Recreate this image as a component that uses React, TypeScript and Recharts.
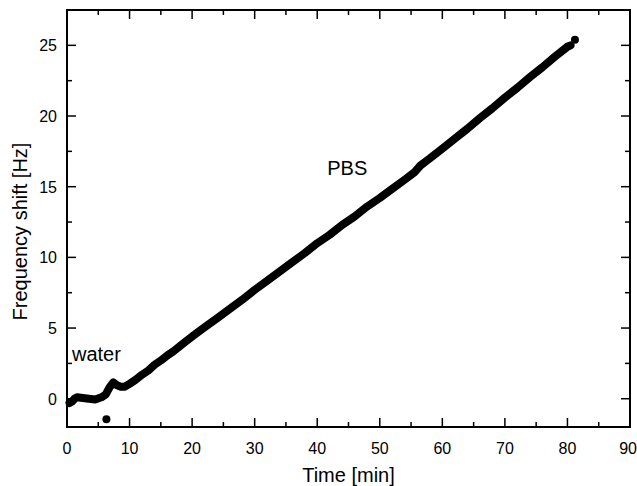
import React from "react";
import {
  ComposedChart,
  Line,
  Scatter,
  XAxis,
  YAxis,
  ReferenceDot,
} from "recharts";

// ─── Data ─────────────────────────────────────────────────────────────────────

const TIME = [
  0.4, 0.8, 1.2, 1.6, 2.5, 3.5, 4.5, 5.5, 6.2, 6.8, 7.4, 8, 8.6, 9.2, 10, 11, 12, 13,
  14, 15, 16, 17, 18, 19, 20, 22, 24, 26, 28, 30, 32, 34, 36, 38, 40, 42, 44, 46,
  48, 50, 52, 54, 55.5, 56.5, 58, 60, 62, 64, 66, 68, 70, 72, 74, 76, 78, 80, 80.5,
];
const SHIFT = [
  -0.3, -0.2, 0.0, 0.1, 0.05, 0.0, -0.05, 0.1, 0.3, 0.8, 1.15, 0.95, 0.85, 0.85,
  1.05, 1.35, 1.7, 2.0, 2.4, 2.7, 3.05, 3.35, 3.7, 4.05, 4.4, 5.05, 5.7, 6.35, 7.0,
  7.7, 8.35, 9.0, 9.65, 10.3, 11.0, 11.6, 12.3, 12.9, 13.6, 14.2, 14.85, 15.5,
  16.0, 16.5, 17.0, 17.7, 18.4, 19.1, 19.85, 20.55, 21.3, 22.0, 22.75, 23.45,
  24.2, 24.9, 25.0,
];
// stray single points
const OUTLIER_TIME = [6.3, 81.2];
const OUTLIER_SHIFT = [-1.45, 25.4];

const X_TICKS = [0, 5, 10, 15, 20, 25, 30, 35, 40, 45, 50, 55, 60, 65, 70, 75, 80, 85, 90];
const Y_TICKS = [0, 2.5, 5, 7.5, 10, 12.5, 15, 17.5, 20, 22.5, 25];
const X_DOMAIN = [0, 90];
const Y_DOMAIN = [-2, 27.5];

const series = TIME.map((t, i) => ({ t, shift: SHIFT[i] }));
const outliers = OUTLIER_TIME.map((t, i) => ({ t, stray: OUTLIER_SHIFT[i] }));

// ─── Layout / style ───────────────────────────────────────────────────────────

const W = 637;
const H = 486;
const M = { top: 10, right: 7, bottom: 0, left: 0 };
const Y_AXIS_W = 67;
const X_AXIS_H = 59;
const PLOT = {
  left: M.left + Y_AXIS_W,
  right: W - M.right,
  top: M.top,
  bottom: H - M.bottom - X_AXIS_H,
};

const FONT = "'Liberation Sans', Arial, sans-serif";
const MAJOR = 9;
const MINOR = 5;
const X_GAP = 16;
const Y_GAP = 10;

// bottom axis: inward tick mark + label
const BottomTick = ({ x, y, payload }: any) => {
  const v = payload.value;
  const major = v % 10 === 0;
  const axisY = y - X_GAP;
  const last = v === X_DOMAIN[1];
  return (
    <g>
      <line x1={x} x2={x} y1={axisY} y2={axisY - (major ? MAJOR : MINOR)} stroke="#000" strokeWidth={1.5} />
      {major && (
        <text x={last ? x + 7 : x} y={y + 11} textAnchor={last ? "end" : "middle"} fontSize={16} fontFamily={FONT} fill="#000">
          {v}
        </text>
      )}
    </g>
  );
};

// left axis: inward tick mark + label
const LeftTick = ({ x, y, payload }: any) => {
  const v = payload.value;
  const major = v % 5 === 0;
  const axisX = x + Y_GAP;
  return (
    <g>
      <line x1={axisX} x2={axisX + (major ? MAJOR : MINOR)} y1={y} y2={y} stroke="#000" strokeWidth={1.5} />
      {major && (
        <text x={x} y={y + 6} textAnchor="end" fontSize={16} fontFamily={FONT} fill="#000">{v}</text>
      )}
    </g>
  );
};

const Note = (text: string) => (props: any) => {
  const vb = props.viewBox || {};
  return (
    <text x={vb.x} y={vb.y} fontSize={20} fontFamily={FONT} fill="#000">{text}</text>
  );
};

const YTitle = (props: any) => {
  const vb = props.viewBox || { x: 0, y: 0, height: 0 };
  const x = vb.x + 26.5;
  const y = vb.y + vb.height / 2 + 13;
  return (
    <text x={x} y={y} transform={`rotate(-90, ${x}, ${y})`} textAnchor="middle" fontSize={20} fontFamily={FONT} fill="#000">
      Frequency shift [Hz]
    </text>
  );
};

// mirrored top/right frame with inward ticks, on the same plot box
const sx = (v: number) =>
  PLOT.left + ((v - X_DOMAIN[0]) / (X_DOMAIN[1] - X_DOMAIN[0])) * (PLOT.right - PLOT.left);
const sy = (v: number) =>
  PLOT.top + ((Y_DOMAIN[1] - v) / (Y_DOMAIN[1] - Y_DOMAIN[0])) * (PLOT.bottom - PLOT.top);

const Frame = () => (
  <svg
    width={W}
    height={H}
    style={{ position: "absolute", left: 0, top: 0, zIndex: 5, pointerEvents: "none", overflow: "visible" }}
  >
    <rect
      x={PLOT.left}
      y={PLOT.top}
      width={PLOT.right - PLOT.left}
      height={PLOT.bottom - PLOT.top}
      fill="none"
      stroke="#000"
      strokeWidth={2}
    />
    {X_TICKS.map((v) => (
      <line
        key={`x${v}`}
        x1={sx(v)}
        x2={sx(v)}
        y1={PLOT.top}
        y2={PLOT.top + (v % 10 === 0 ? MAJOR : MINOR)}
        stroke="#000"
        strokeWidth={1.5}
      />
    ))}
    {Y_TICKS.map((v) => (
      <line
        key={`y${v}`}
        x1={PLOT.right}
        x2={PLOT.right - (v % 5 === 0 ? MAJOR : MINOR)}
        y1={sy(v)}
        y2={sy(v)}
        stroke="#000"
        strokeWidth={1.5}
      />
    ))}
  </svg>
);

const axisLine = { stroke: "#000", strokeWidth: 2 };

export default function App() {
  return (
    <div style={{ position: "absolute", left: 0, top: 0, width: W, height: H, background: "#fff" }}>
      <ComposedChart width={W} height={H} margin={M} style={{ fontFamily: FONT }}>
        <XAxis
          dataKey="t"
          type="number"
          domain={X_DOMAIN}
          ticks={X_TICKS}
          interval={0}
          height={X_AXIS_H}
          tickSize={0}
          tickMargin={X_GAP}
          tickLine={false}
          axisLine={axisLine}
          tick={<BottomTick />}
          label={{ value: "Time [min]", position: "insideBottom", offset: 4, fontSize: 20, fill: "#000" }}
        />
        <YAxis
          type="number"
          domain={Y_DOMAIN}
          ticks={Y_TICKS}
          interval={0}
          width={Y_AXIS_W}
          tickSize={0}
          tickMargin={Y_GAP}
          tickLine={false}
          axisLine={axisLine}
          tick={<LeftTick />}
          label={{ content: YTitle }}
        />

        <Line
          data={series}
          dataKey="shift"
          type="linear"
          stroke="#000"
          strokeWidth={8}
          strokeLinecap="round"
          strokeLinejoin="round"
          dot={false}
          activeDot={false}
          isAnimationActive={false}
        />
        <Scatter
          data={outliers}
          dataKey="stray"
          fill="#000"
          shape={(p: any) => <circle cx={p.cx} cy={p.cy} r={4} fill="#000" />}
          isAnimationActive={false}
        />

        <ReferenceDot x={0.8} y={2.65} r={0} stroke="none" label={Note("water") as any} />
        <ReferenceDot x={41.6} y={15.8} r={0} stroke="none" label={Note("PBS") as any} />
      </ComposedChart>
      <Frame />
    </div>
  );
}
